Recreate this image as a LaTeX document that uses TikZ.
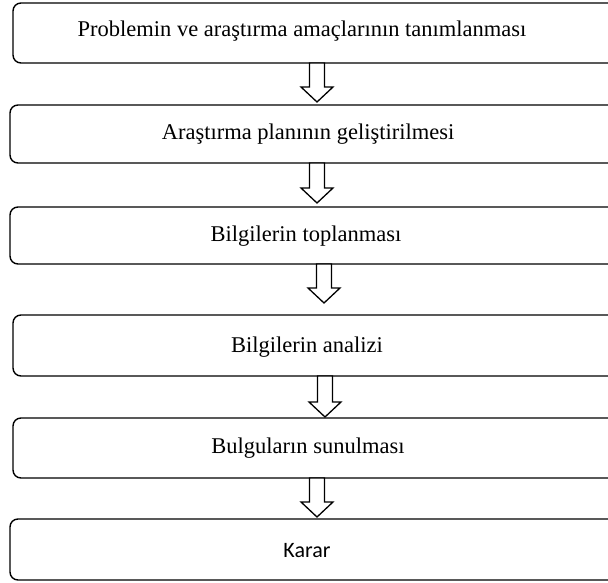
\documentclass[tikz,border=0pt]{standalone}
\usepackage{fontspec}
\setmainfont{Liberation Serif}
\newfontfamily\karfont{Carlito}
\begin{document}
\begin{tikzpicture}[x=1pt,y=-1pt,
  frame/.style={draw=black,line width=1.4pt,rounded corners=8pt,fill=white},
  lbl/.style={inner sep=0pt,font=\fontsize{22.5}{26}\selectfont},
  blockarrow/.style={draw=black,line width=1.3pt,fill=white,line join=miter}]
\useasboundingbox (0,0) rectangle (608,583);
\newcommand\barrow[3]{% x, ytop, ytip
  \draw[blockarrow] (#1-7.5,#2) -- (#1+7.5,#2) -- (#1+7.5,#3-15) -- (#1+16,#3-15)
    -- (#1,#3) -- (#1-16,#3-15) -- (#1-7.5,#3-15) -- cycle;}
\draw[frame] (13,3) rectangle (625,63);
\draw[frame] (10,105) rectangle (625,163);
\draw[frame] (10,207) rectangle (625,264);
\draw[frame] (13,315) rectangle (625,376);
\draw[frame] (13,418) rectangle (625,478);
\draw[frame] (10,519) rectangle (625,580);
\node[lbl] (t1) at (302,31) {Problemin ve araştırma amaçlarının tanımlanması};
\node[lbl] (t2) at (308,134) {Araştırma planının geliştirilmesi};
\node[lbl] (t3) at (306,236) {Bilgilerin toplanması};
\node[lbl] (t4) at (307,347) {Bilgilerin analizi};
\node[lbl] (t5) at (308,448) {Bulguların sunulması};
\node[lbl,font=\karfont\fontsize{22}{26}\selectfont] (t6) at (307,551) {Karar};
\barrow{317}{63}{102}
\barrow{317}{163}{203}
\barrow{324}{264}{303}
\barrow{325}{376}{417}
\barrow{317}{478}{517}
\end{tikzpicture}
\end{document}
